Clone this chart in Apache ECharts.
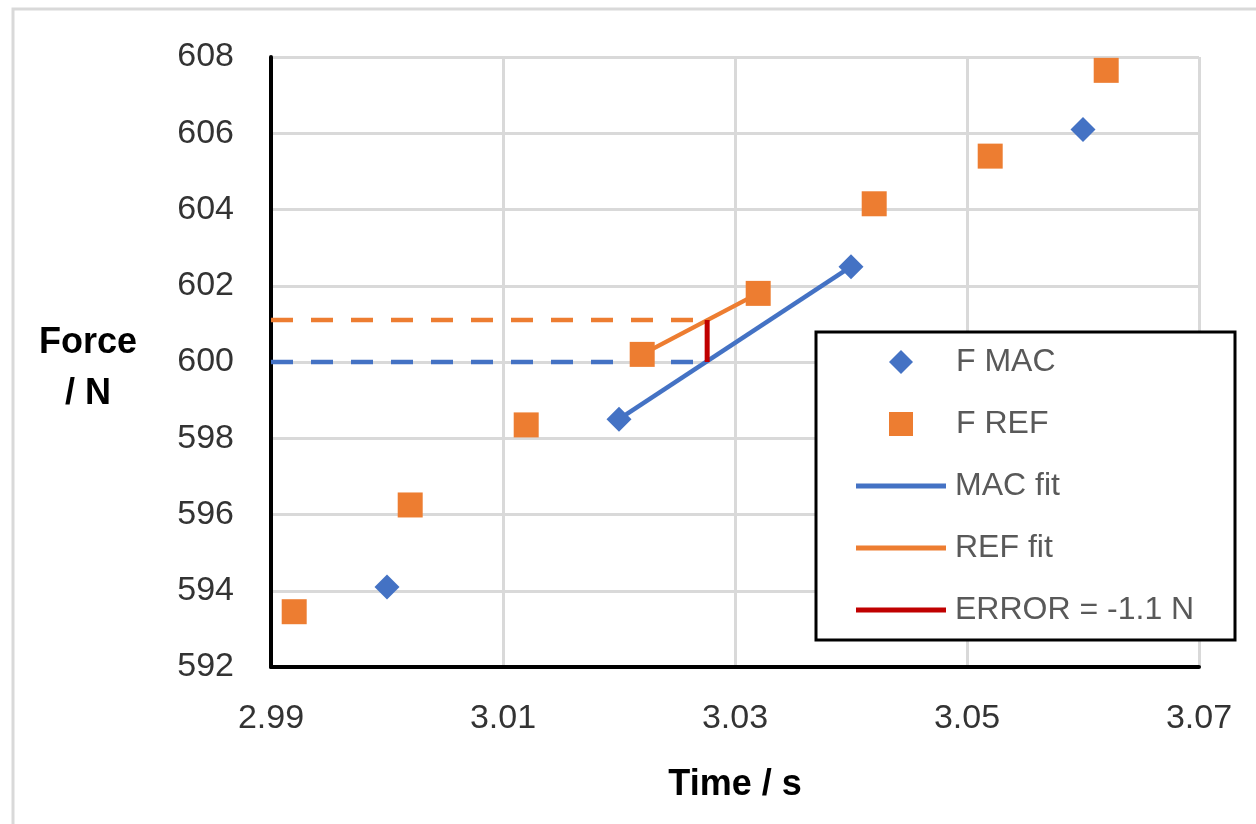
<!DOCTYPE html>
<html>
<head>
<meta charset="utf-8">
<script src="https://cdn.jsdelivr.net/npm/echarts@6/dist/echarts.min.js"></script>
<style>html,body{margin:0;padding:0;background:#fff}#c{width:1256px;height:824px}</style>
</head>
<body>
<div id="c"></div>
<script>
// Data
const macTime = [3.000, 3.020, 3.040, 3.060];
const macForce = [594.1, 598.5, 602.5, 606.1];
const refTime = [2.992, 3.002, 3.012, 3.022, 3.032, 3.042, 3.052, 3.062];
const refForce = [593.45, 596.25, 598.35, 600.2, 601.8, 604.15, 605.4, 607.65];
const macFitTime = [3.020, 3.040];
const macFitForce = [598.5, 602.5];
const refFitTime = [3.022, 3.032];
const refFitForce = [600.2, 601.8];
const crossTime = 3.0276;
const macLevel = 600.0;
const refLevel = 601.1;
const xStart = 2.99;
const markerNames = ['F MAC', 'F REF'];
const lineNames = ['MAC fit', 'REF fit', 'ERROR = -1.1 N'];

const pair = (xs, ys) => xs.map((x, i) => [x, ys[i]]);
const FONT = 'Liberation Sans';
const BLUE = '#4472C4', ORANGE = '#ED7D31', RED = '#C00000';
const legendText = {fontFamily: FONT, fontSize: 32, color: '#595959', lineHeight: 40};

const chart = echarts.init(document.getElementById('c'), null, {renderer: 'canvas'});
chart.setOption({
  animation: false,
  backgroundColor: '#fff',
  grid: {left: 271, right: 57, top: 57, bottom: 157},
  graphic: [
    {type: 'rect', z: -10, shape: {x: 13, y: 9, width: 1300, height: 900},
     style: {fill: 'none', stroke: '#d9d9d9', lineWidth: 3}},
    {type: 'rect', z: 50, shape: {x: 816, y: 332, width: 419, height: 308},
     style: {fill: '#fff', stroke: '#000', lineWidth: 3}},
    {type: 'text', x: 88, y: 318, z: 50, style: {text: 'Force\n/ N', textAlign: 'center', align: 'center',
      font: 'bold 36px "' + FONT + '"', fill: '#000', lineHeight: 51}}
  ],
  xAxis: {
    type: 'value', min: 2.99, max: 3.07, interval: 0.02,
    name: 'Time / s', nameLocation: 'middle', nameGap: 100,
    nameTextStyle: {fontFamily: FONT, fontWeight: 'bold', fontSize: 36, color: '#000'},
    axisLine: {show: true, onZero: false, lineStyle: {color: '#000', width: 4}},
    axisTick: {show: false},
    axisLabel: {margin: 35, fontFamily: FONT, fontSize: 34, color: '#333',
      formatter: v => v.toFixed(2)},
    splitLine: {show: true, lineStyle: {color: '#d9d9d9', width: 3}}
  },
  yAxis: {
    type: 'value', min: 592, max: 608, interval: 2,
    axisLine: {show: true, onZero: false, lineStyle: {color: '#000', width: 4}},
    axisTick: {show: false},
    axisLabel: {margin: 37, fontFamily: FONT, fontSize: 34, color: '#333'},
    splitLine: {show: true, lineStyle: {color: '#d9d9d9', width: 3}}
  },
  legend: [
    {
      data: [{name: markerNames[0], icon: 'diamond'}, {name: markerNames[1], icon: 'rect'}],
      orient: 'vertical', left: 889, top: 342, padding: 0, z: 60,
      itemWidth: 24, itemHeight: 24, itemGap: 22,
      textStyle: Object.assign({padding: [0, 0, 0, 38]}, legendText),
      selectedMode: false
    },
    {
      data: lineNames.map(n => ({name: n, icon: 'rect'})),
      orient: 'vertical', left: 856, top: 466, padding: 0, z: 60,
      itemWidth: 90, itemHeight: 5, itemGap: 22,
      textStyle: Object.assign({padding: [0, 0, 0, 4]}, legendText),
      selectedMode: false
    }
  ],
  series: [
    {type: 'line', data: [[xStart, macLevel], [crossTime, macLevel]], symbol: 'none',
     lineStyle: {color: BLUE, width: 4.5, type: [22, 18]}, z: 2, silent: true},
    {type: 'line', data: [[xStart, refLevel], [crossTime, refLevel]], symbol: 'none',
     lineStyle: {color: ORANGE, width: 4.5, type: [22, 18]}, z: 2, silent: true},
    {name: 'MAC fit', type: 'line', data: pair(macFitTime, macFitForce), symbol: 'none',
     color: BLUE, itemStyle: {color: BLUE}, lineStyle: {color: BLUE, width: 4.5}, z: 3},
    {name: 'REF fit', type: 'line', data: pair(refFitTime, refFitForce), symbol: 'none',
     color: ORANGE, itemStyle: {color: ORANGE}, lineStyle: {color: ORANGE, width: 4.5}, z: 3},
    {name: 'ERROR = -1.1 N', type: 'line', data: [[crossTime, macLevel], [crossTime, refLevel]], symbol: 'none',
     color: RED, itemStyle: {color: RED}, lineStyle: {color: RED, width: 5}, z: 4},
    {name: 'F MAC', type: 'scatter', data: pair(macTime, macForce), symbol: 'diamond', symbolSize: 25,
     itemStyle: {color: BLUE, opacity: 1}, z: 5},
    {name: 'F REF', type: 'scatter', data: pair(refTime, refForce), symbol: 'rect', symbolSize: 25,
     itemStyle: {color: ORANGE, opacity: 1}, z: 5}
  ]
});
</script>
</body>
</html>
